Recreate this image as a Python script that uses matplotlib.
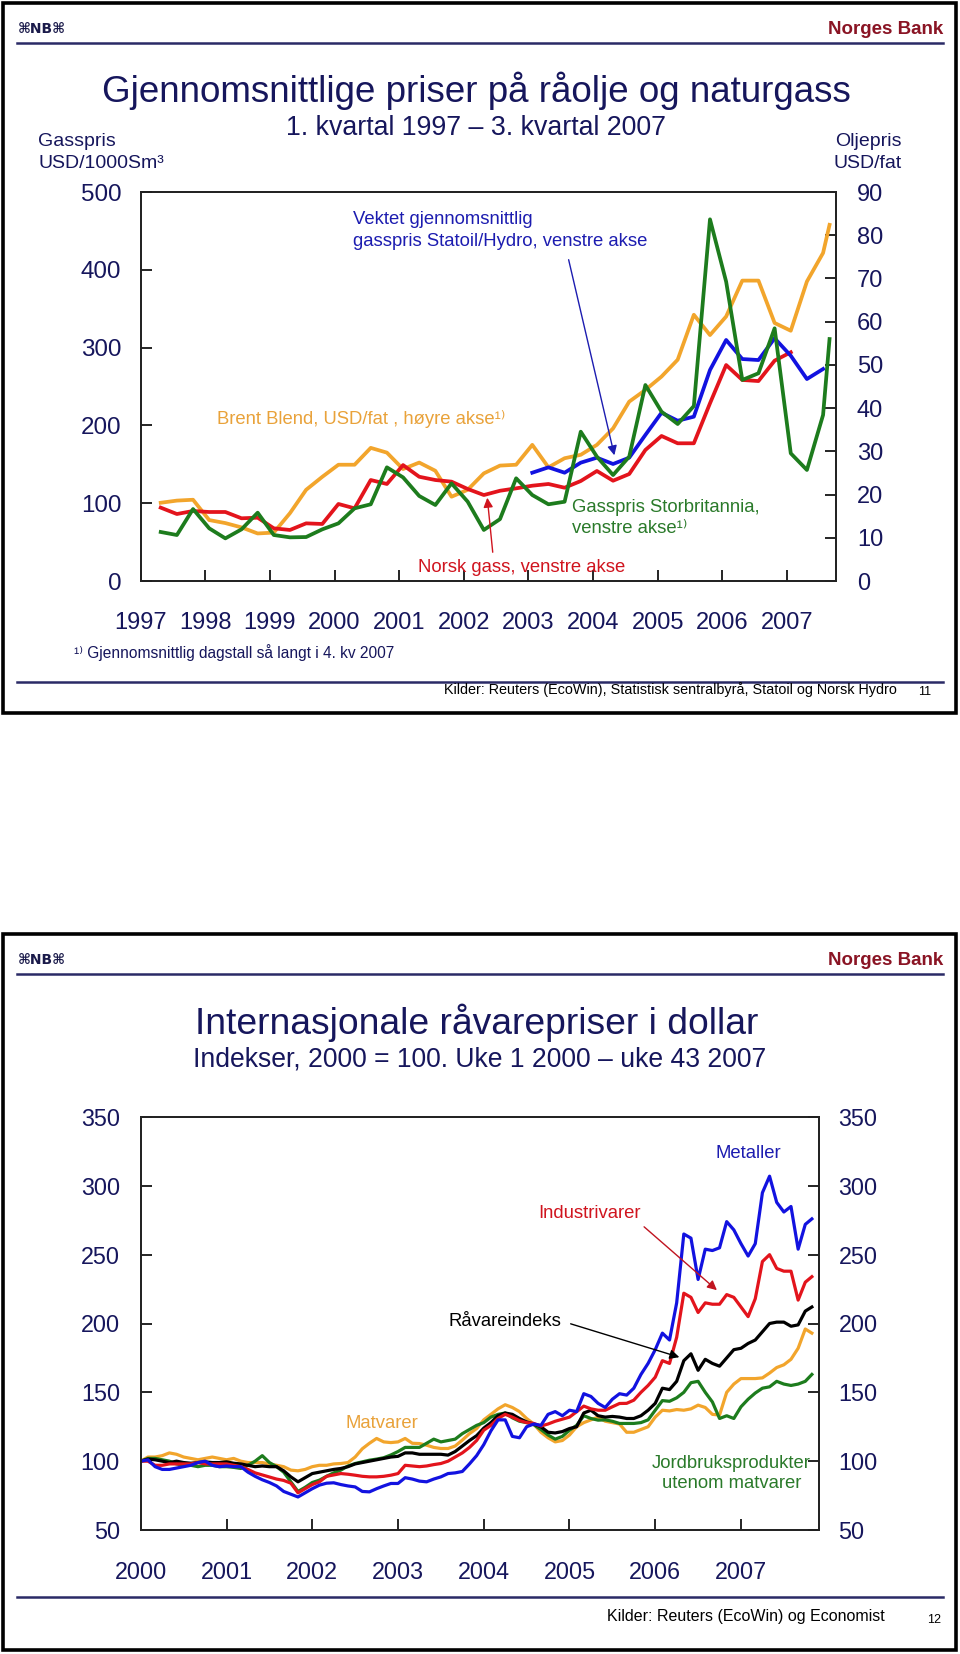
import numpy as np
import matplotlib.pyplot as plt
from matplotlib.patches import Rectangle
from matplotlib.lines import Line2D

plt.rcParams['font.family'] = ['Liberation Sans', 'DejaVu Sans']

# ---------- slide 11: quarterly oil and gas prices ----------
years_top = list(range(1997, 2008))
# Brent Blend, USD/fat (right axis); last value = 4th quarter 2007 so far
brent = [18.1, 18.6, 18.8, 14.1, 13.4, 12.4, 11.0, 11.2, 15.7, 21.1,
         24.1, 26.9, 26.9, 30.8, 29.7, 25.9, 27.4, 25.5, 19.5, 21.1,
         24.9, 26.7, 26.9, 31.5, 26.3, 28.4, 29.2, 31.5, 35.3, 41.5,
         44.2, 47.3, 51.2, 61.6, 56.9, 61.2, 69.5, 69.5, 59.7, 57.9,
         69.3, 75.9, 82.4]
# Norsk gass, USD/1000Sm3 (left axis)
norsk_gass = [94.3, 86.1, 90.0, 88.7, 88.7, 80.6, 81.4, 67.7, 65.6, 74.1,
              73.3, 99.0, 93.4, 129.8, 124.7, 149.0, 134.0, 129.8, 127.7, 118.3,
              110.5, 116.0, 119.1, 122.5, 124.7, 119.9, 128.5, 141.4, 128.9, 137.5,
              168.4, 186.4, 177.0, 177.0, 228.4, 277.6, 258.4, 257.0, 283.2, 294.0]
# Vektet gjennomsnittlig gasspris Statoil/Hydro, from 2003 (left axis)
statoil_hydro = [139.2, 146.1, 139.2, 152.1, 158.5, 150.4, 158.5, 187.7, 216.3, 206.0,
                 211.2, 271.2, 309.8, 285.3, 284.0, 312.0, 289.6, 259.6, 272.5]
# Gasspris Storbritannia (left axis); last value = 4th quarter so far
uk_gass = [63.0, 59.1, 92.5, 67.7, 54.8, 66.4, 87.8, 59.1, 56.1, 56.5,
           66.4, 74.1, 93.4, 98.6, 146.1, 133.2, 109.3, 97.7, 125.5, 102.0,
           65.6, 79.5, 132.0, 110.5, 98.6, 101.9, 191.9, 159.8, 136.2, 159.8,
           251.9, 217.6, 201.8, 224.9, 464.9, 384.7, 258.4, 267.0, 324.8, 164.1,
           142.7, 213.4, 311.0]

# ---------- slide 12: weekly commodity indices (read monthly) ----------
years_bot = list(range(2000, 2008))
metaller = [100, 101, 96, 94, 94, 95, 96, 97, 99, 100, 97, 96,
            96.5, 96, 96, 92, 89, 86.5, 84.5, 82, 78, 76, 74, 77,
            80, 82.6, 84, 84.3, 83, 82, 81.3, 78, 77.7, 80, 82, 83.8,
            83.8, 88, 87, 85.5, 85, 87, 88.6, 91, 91.5, 92.5, 98, 104,
            112, 122, 130, 130, 118, 117, 125, 127, 126, 134, 136, 133,
            137, 136, 149, 147, 142, 139, 145, 149, 148, 153, 163, 171,
            181, 193, 188, 215, 265, 262, 232, 254, 253, 255, 274, 268,
            258, 249, 258, 295, 307, 288, 281, 285, 254, 272, 276]
industrivarer = [100, 100, 97, 97, 98, 98, 98, 98, 99, 98, 98, 98,
                 98, 97, 96, 94, 91.5, 90, 88.5, 87, 86, 84, 77, 80,
                 83, 85, 89, 90, 91, 90.5, 89.8, 89, 88.6, 88.6, 89, 89.8,
                 91, 97, 96.5, 96, 96.5, 97.5, 98.3, 100, 103, 106, 110, 115,
                 122.5, 126, 131, 134, 132, 129.5, 128, 127.4, 125.5, 127, 129, 130.5,
                 132, 135.9, 140, 138, 137, 137, 139.5, 141.9, 142, 144.3, 150, 155,
                 161, 173, 171, 190, 222, 219, 208, 215, 214, 214, 221, 219,
                 212, 205, 218, 245, 250, 240, 238, 238, 217, 230, 234]
raavareindeks = [100, 101.5, 101, 100, 99, 100, 99, 98.5, 99, 99.5, 99, 99,
                 99.5, 98.5, 98, 97, 96, 96.5, 96, 96, 93, 88.6, 85, 88,
                 91, 92, 93, 94, 94.7, 96, 98, 99, 100, 101, 102, 103,
                 103.5, 106, 106, 105, 105, 105, 105, 104.4, 107, 111, 115, 118.5,
                 124, 128, 133, 135, 134, 131, 128.5, 127, 125, 121, 120.5, 121.5,
                 123.7, 125, 135, 137, 133, 132, 132.5, 132, 131, 131, 133, 137,
                 142, 153, 152, 158, 173, 178, 166, 174, 171, 169, 175, 181,
                 182, 185.5, 188, 194, 200, 201, 201, 198, 199, 209, 212]
matvarer = [100, 103, 103, 104, 106, 105, 103, 102, 101, 102, 103, 102,
            101, 102, 100, 99, 99, 99, 98, 97, 96, 93.5, 93, 94,
            96, 97, 97, 98, 98.3, 99, 103, 109, 113, 116.5, 114, 113.5,
            114, 116.5, 113, 112.8, 111.6, 110, 109.2, 109.2, 111, 115.3, 120, 123.7,
            130, 134, 138, 141, 139, 136, 131, 127, 121, 117, 114, 115,
            119, 125, 128, 130, 132, 129, 128, 127, 121, 121, 123, 125,
            132, 137, 136.5, 137.5, 137, 138, 140.7, 139, 134, 133.5, 150, 156,
            160, 160, 160, 160.5, 164, 168, 170, 174, 182, 196, 193]
jordbruk = [100, 102, 102, 101, 100, 98, 97, 97, 96, 97, 97, 96,
            96, 95.5, 94.7, 97, 100, 104, 99, 96, 92, 85, 78, 81,
            84.5, 86.2, 89, 91.5, 93.5, 96.5, 98.3, 99.5, 100.7, 101.5, 102.5, 104.5,
            107, 110, 110, 110, 113, 116, 114, 115, 116, 120, 123, 126,
            128, 132, 134, 135, 131.5, 129, 128, 126.5, 123, 119, 116, 118,
            122.5, 126, 133, 131, 129.8, 130, 129, 127.4, 127.4, 127.4, 128, 130,
            137, 144, 143.5, 146, 150, 157, 158, 150, 143, 131, 133, 131,
            139.5, 145, 149.5, 153, 154, 158, 156, 155, 156, 158, 163]

W, H = 960, 1654
NAVY = '#16165c'
ORANGE = '#f2a52c'
RED = '#e3141c'
GREEN = '#1d7c1d'
BLUE = '#1212e0'


def P(x, y):
    return (x / W, 1 - y / H)


def FP(x, y):
    return (x, H - y)


fig = plt.figure(figsize=(W / 100, H / 100), dpi=100)


def txt(x, y, s, **kw):
    kw.setdefault('va', 'center')
    fig.text(*P(x, y), s, **kw)


def hline(x0, x1, y, **kw):
    fig.add_artist(Line2D([x0 / W, x1 / W], [1 - y / H] * 2, **kw))


# slide frames, headers and footers
for top, bot, foot in [(3, 713, 682), (934, 1650, 1597)]:
    fig.add_artist(Rectangle(P(3, bot), 953 / W, (bot - top) / H, transform=fig.transFigure,
                             fill=False, lw=2.6, ec='black'))
    hline(17, 943, top + 40, color='#2a2a66', lw=1.8)
    hline(17, 943, foot, color='#2a2a66', lw=1.8)
    txt(18, top + 26, '⌘NB⌘', size=10, weight='bold', color='#1a1a4a', ha='left',
        family=['DejaVu Sans'])
    txt(943, top + 26, 'Norges Bank', size=13.5, weight='bold', color='#8a1424', ha='right')

txt(897, 690, 'Kilder: Reuters (EcoWin), Statistisk sentralbyrå, Statoil og Norsk Hydro',
    size=10.4, color='black', ha='right')
txt(925, 692, '11', size=9, color='black', ha='center')
txt(885, 1617, 'Kilder: Reuters (EcoWin) og Economist', size=11.5, color='black', ha='right')
txt(934, 1620, '12', size=9, color='black', ha='center')

# ---------------- top chart ----------------
txt(476, 91, 'Gjennomsnittlige priser på råolje og naturgass', size=26.5, color=NAVY, ha='center')
txt(476, 128, '1. kvartal 1997 – 3. kvartal 2007', size=19.3, color=NAVY, ha='center')
txt(38, 142, 'Gasspris', size=14, color=NAVY, ha='left')
txt(38, 164, 'USD/1000Sm³', size=14, color=NAVY, ha='left')
txt(868, 142, 'Oljepris', size=14, color=NAVY, ha='center')
txt(868, 164, 'USD/fat', size=14, color=NAVY, ha='center')

ax = fig.add_axes([140.7 / W, 1 - 581 / H, 695.3 / W, 389 / H])
ax2 = ax.twinx()
ax.set_zorder(ax2.get_zorder() + 1)
ax.patch.set_visible(False)

q_x = 1997.31 + 0.25 * np.arange(42)
last_x = 2007.66
x_full = np.append(q_x, last_x)

ax2.plot(x_full, brent, color=ORANGE, lw=2.7)
ax.plot(q_x[:len(norsk_gass)], norsk_gass, color=RED, lw=2.7)
ax.plot(q_x[23:23 + len(statoil_hydro)], statoil_hydro, color=BLUE, lw=2.7)
ax.plot(x_full, uk_gass, color=GREEN, lw=2.7)

ax.set_xlim(1997, 2007.76)
ax.set_ylim(0, 500)
ax2.set_ylim(0, 90)
ax.set_xticks(years_top)
ax.set_xticklabels([str(y) for y in years_top])
ax.set_yticks(range(0, 501, 100))
ax2.set_yticks(range(0, 91, 10))
ax.tick_params(axis='x', direction='in', length=8, width=1.2, pad=22, labelsize=17, labelcolor=NAVY)
ax.tick_params(axis='y', direction='in', length=8, width=1.2, pad=14, labelsize=17.4, labelcolor=NAVY)
ax2.tick_params(axis='y', direction='in', length=8, width=1.2, pad=15, labelsize=17, labelcolor=NAVY)
for a in (ax, ax2):
    for sp in a.spines.values():
        sp.set_linewidth(1.3)
        sp.set_color('#222222')

txt(353, 220, 'Vektet gjennomsnittlig', size=13.3, color='#1c1cb0', ha='left')
txt(353, 242, 'gasspris Statoil/Hydro, venstre akse', size=13.3, color='#1c1cb0', ha='left')
txt(217, 419, 'Brent Blend, USD/fat , høyre akse¹⁾', size=13.3, color='#e9a23a', ha='left')
txt(572, 507, 'Gasspris Storbritannia,', size=13.3, color='#2a7a2a', ha='left')
txt(572, 528, 'venstre akse¹⁾', size=13.3, color='#2a7a2a', ha='left')
txt(418, 567, 'Norsk gass, venstre akse', size=13.3, color='#d0141e', ha='left')
ax.annotate('', xy=FP(615, 458), xytext=FP(568, 257), xycoords='figure pixels',
            arrowprops=dict(arrowstyle='-|>', color='#1c1cb0', lw=1, mutation_scale=14),
            annotation_clip=False)
ax.annotate('', xy=FP(487, 495), xytext=FP(493, 555), xycoords='figure pixels',
            arrowprops=dict(arrowstyle='-|>', color='#d0141e', lw=1, mutation_scale=14),
            annotation_clip=False)
txt(74, 653, '¹⁾ Gjennomsnittlig dagstall så langt i 4. kv 2007', size=11.2, color=NAVY, ha='left')

# ---------------- bottom chart ----------------
txt(477, 1023, 'Internasjonale råvarepriser i dollar', size=26.8, color=NAVY, ha='center')
txt(480, 1059, 'Indekser, 2000 = 100. Uke 1 2000 – uke 43 2007', size=19.1, color=NAVY, ha='center')

bx = fig.add_axes([140.8 / W, 1 - 1530 / H, 678.2 / W, 413 / H])
bx2 = bx.twinx()
m_x = np.append(2000 + np.arange(94) / 12, 2007 + 43 / 52)
bx.plot(m_x, matvarer, color=ORANGE, lw=2.3)
bx.plot(m_x, jordbruk, color=GREEN, lw=2.3)
bx.plot(m_x, raavareindeks, color='black', lw=2.3)
bx.plot(m_x, industrivarer, color=RED, lw=2.3)
bx.plot(m_x, metaller, color=BLUE, lw=2.3)

bx.set_xlim(2000, 2007.91)
for a in (bx, bx2):
    a.set_ylim(50, 350)
    a.set_yticks(range(50, 351, 50))
    for sp in a.spines.values():
        sp.set_linewidth(1.3)
        sp.set_color('#222222')
bx.set_xticks(years_bot)
bx.set_xticklabels([str(y) for y in years_bot])
bx.tick_params(axis='x', direction='in', length=8, width=1.2, pad=22, labelsize=16.8, labelcolor=NAVY)
bx.tick_params(axis='y', direction='in', length=8, width=1.2, pad=15, labelsize=16.8, labelcolor=NAVY)
bx2.tick_params(axis='y', direction='in', length=8, width=1.2, pad=14, labelsize=16.8, labelcolor=NAVY)

txt(748, 1153, 'Metaller', size=13.3, color='#1c1cb0', ha='center')
txt(590, 1214, 'Industrivarer', size=13.3, color='#d0141e', ha='center')
txt(449, 1321, 'Råvareindeks', size=13.3, color='black', ha='left')
txt(382, 1423, 'Matvarer', size=13.3, color='#e9a23a', ha='center')
txt(731, 1463, 'Jordbruksprodukter', size=13.3, color='#2a7a2a', ha='center')
txt(732, 1484, 'utenom matvarer', size=13.3, color='#2a7a2a', ha='center')
bx.annotate('', xy=FP(719, 1292), xytext=FP(642, 1225), xycoords='figure pixels',
            arrowprops=dict(arrowstyle='-|>', color='#c01420', lw=1, mutation_scale=14),
            annotation_clip=False)
bx.annotate('', xy=FP(682, 1358), xytext=FP(568, 1323), xycoords='figure pixels',
            arrowprops=dict(arrowstyle='-|>', color='black', lw=1, mutation_scale=14),
            annotation_clip=False)

fig.savefig('out.png', dpi=100)
